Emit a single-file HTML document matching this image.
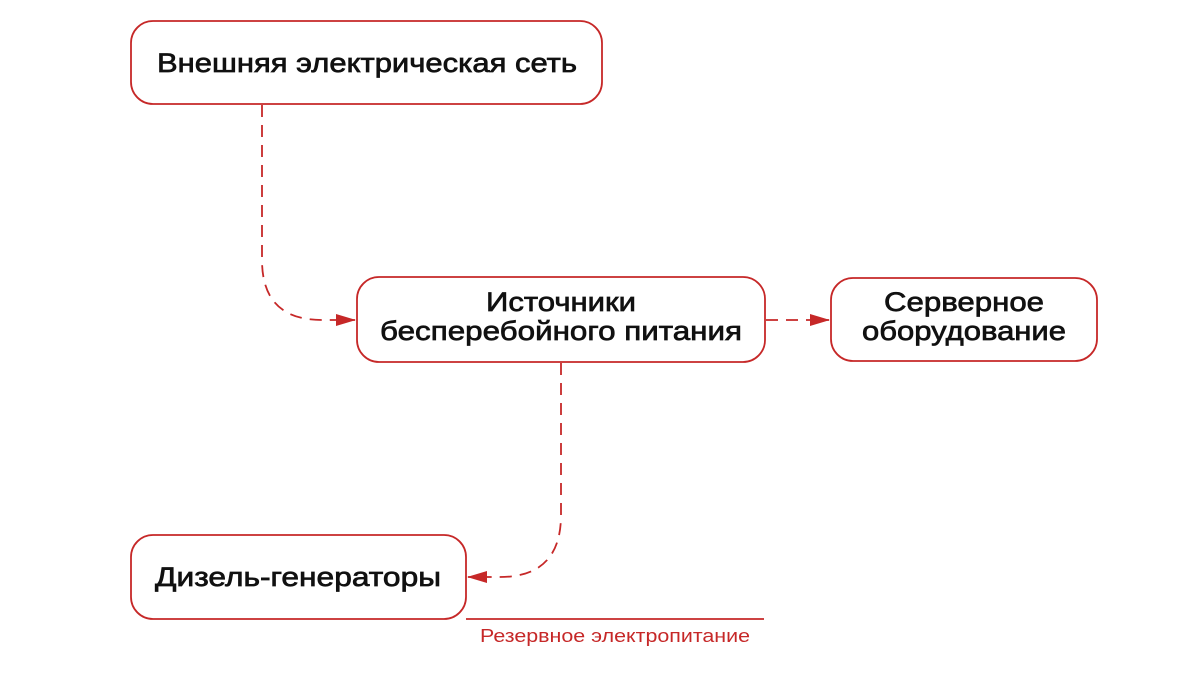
<!DOCTYPE html>
<html><head><meta charset="utf-8"><style>body{margin:0;background:#fff}svg{display:block}</style></head>
<body>
<svg width="1200" height="674" viewBox="0 0 1200 674" xmlns="http://www.w3.org/2000/svg" font-family="Liberation Sans, sans-serif">
<defs><marker id="a" markerWidth="20" markerHeight="14" refX="19" refY="7" orient="auto" markerUnits="userSpaceOnUse"><path d="M0,1 L20,7 L0,13 Z" fill="#c62828"/></marker></defs>
<g fill="none" stroke="#c62828" stroke-width="1.8">
<rect x="131" y="21" width="471" height="83" rx="22"/>
<rect x="357" y="277" width="408" height="85" rx="22"/>
<rect x="831" y="278" width="266" height="83" rx="22"/>
<rect x="131" y="535" width="335" height="84" rx="22"/>
</g>
<g fill="none" stroke="#c62828" stroke-width="1.8" stroke-dasharray="12,8">
<path d="M262,105 V260 Q262,320 322,320 H355" marker-end="url(#a)"/>
<path d="M766,320 H829" marker-end="url(#a)"/>
<path d="M561,363 V515 Q561,577 500,577 H468" marker-end="url(#a)"/>
</g>
<line x1="466" y1="619" x2="764" y2="619" stroke="#c62828" stroke-width="1.8"/>
<g fill="#111" stroke="#111" stroke-width="0.7" font-size="27" text-anchor="middle">
<text x="367" y="72" textLength="420" lengthAdjust="spacingAndGlyphs">Внешняя электрическая сеть</text>
<text x="561" y="311" textLength="150" lengthAdjust="spacingAndGlyphs">Источники</text>
<text x="561" y="340" textLength="362" lengthAdjust="spacingAndGlyphs">бесперебойного питания</text>
<text x="964" y="311" textLength="160" lengthAdjust="spacingAndGlyphs">Серверное</text>
<text x="964" y="340" textLength="204" lengthAdjust="spacingAndGlyphs">оборудование</text>
<text x="298" y="586" textLength="286" lengthAdjust="spacingAndGlyphs">Дизель-генераторы</text>
</g>
<text x="615" y="642" fill="#c62828" font-size="18" text-anchor="middle" textLength="270" lengthAdjust="spacingAndGlyphs">Резервное электропитание</text>
</svg>
</body></html>
